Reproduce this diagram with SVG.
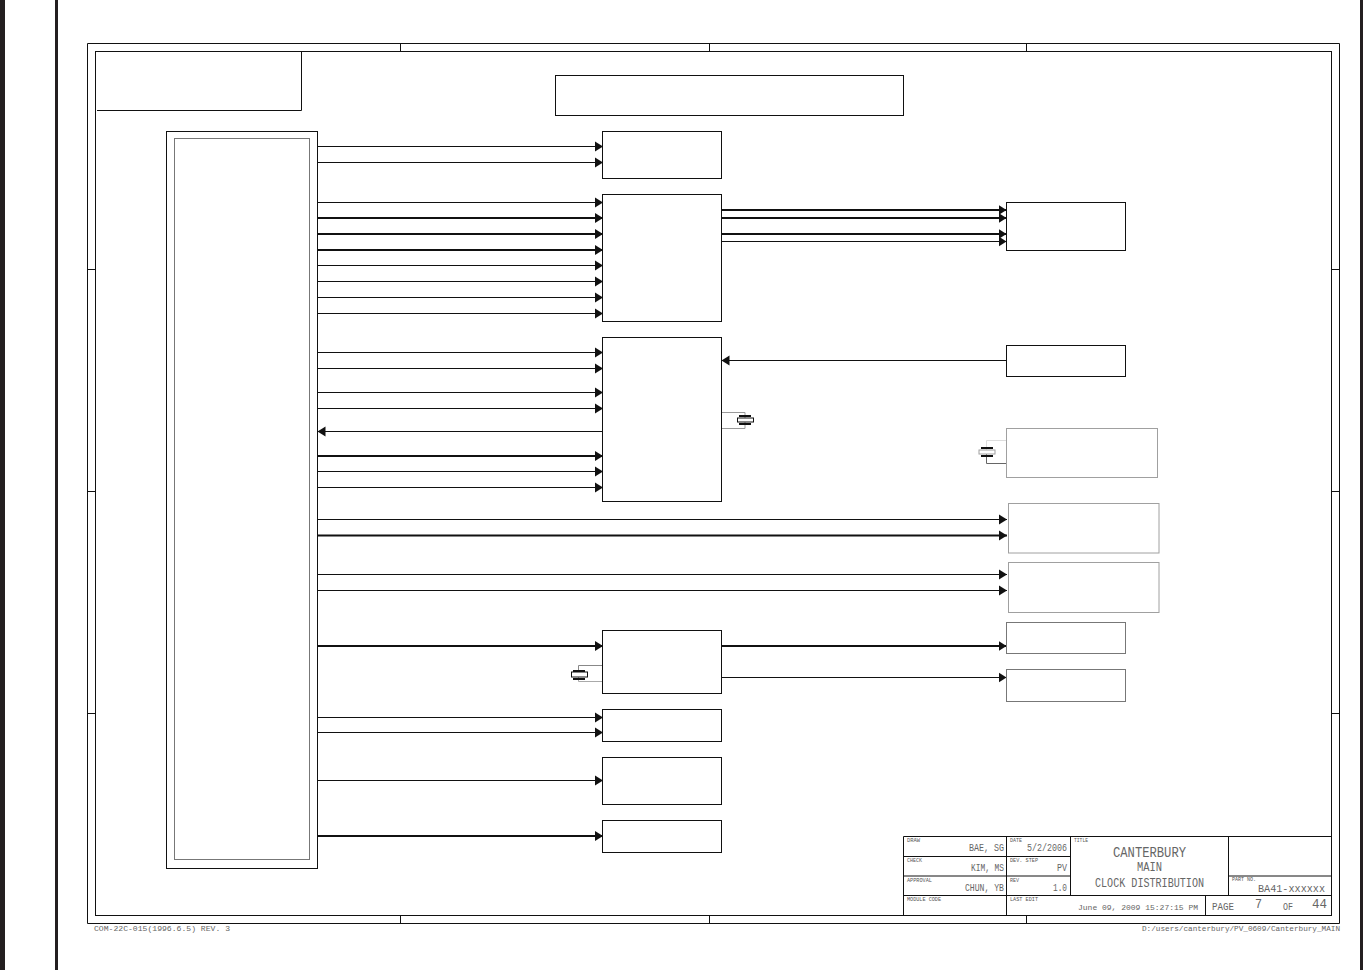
<svg xmlns="http://www.w3.org/2000/svg" width="1363" height="970" viewBox="0 0 1363 970">
<defs>
<style>
.box{fill:#fff;stroke:#111;stroke-width:1}
.gb{fill:#fff;stroke:#a0a0a0;stroke-width:1}
.db{fill:#fff;stroke:#777;stroke-width:1}
.f{fill:none;stroke:#111;stroke-width:1}
.thin{fill:none;stroke:#111;stroke-width:1;marker-end:url(#a)}
.thick{fill:none;stroke:#111;stroke-width:2;marker-end:url(#a)}
.w{fill:none;stroke:#999;stroke-width:1}
.bar{fill:#111}
text{font-family:"Liberation Mono","DejaVu Sans Mono",monospace;fill:#666}
.s{font-size:5.500px;fill:#555}
.m{font-size:10.500px}
.n{font-size:8px}
.t{font-size:12px}
.l{font-size:14px}
.c{font-size:9px}
.p{font-size:7.600px}
</style>
<marker id="a" markerUnits="userSpaceOnUse" markerWidth="9" markerHeight="11" refX="8" refY="5.500" orient="auto"><path d="M0 0.500L8 5.500L0 10.500Z" fill="#111"/></marker>
</defs>
<rect width="1363" height="970" fill="#fff"/>
<rect x="0" y="0" width="5" height="970" fill="#231f20"/>
<rect x="55" y="0" width="3" height="970" fill="#231f20"/>
<rect x="1360" y="0" width="3" height="970" fill="#231f20"/>
<g id="frame">
<path class="f" d="M87.500 923.500V43.500H1339.500V923.500Z"/>
<rect class="f" x="95.500" y="51.500" width="1236" height="864"/>
<path class="f" d="M400.500 43.500V51.500M709.500 43.500V51.500M1026.500 43.500V51.500M400.500 915.500V923.500M709.500 915.500V923.500M1026.500 915.500V923.500M87.500 269.500H95.500M87.500 491.500H95.500M87.500 713.500H95.500M1331.500 269.500H1339.500M1331.500 491.500H1339.500M1331.500 713.500H1339.500"/>
<path class="f" d="M301.500 51.500V110.500H97"/>
<text x="94" y="931" class="p" textLength="136" lengthAdjust="spacingAndGlyphs">COM-22C-015(1996.6.5) REV. 3</text>
<text x="1142" y="931" class="p" textLength="198" lengthAdjust="spacingAndGlyphs">D:/users/canterbury/PV_0609/Canterbury_MAIN</text>
</g>
<g id="connectors">
<path class="thin" d="M317.500 146.500H603"/>
<path class="thin" d="M317.500 162.500H603"/>
<path class="thin" d="M317.500 202.500H603"/>
<path class="thick" d="M317.500 218H603"/>
<path class="thick" d="M317.500 234H603"/>
<path class="thick" d="M317.500 250H603"/>
<path class="thin" d="M317.500 265.500H603"/>
<path class="thin" d="M317.500 281.500H603"/>
<path class="thin" d="M317.500 297.500H603"/>
<path class="thin" d="M317.500 313.500H603"/>
<path class="thin" d="M317.500 352.500H603"/>
<path class="thin" d="M317.500 368.500H603"/>
<path class="thin" d="M317.500 392.500H603"/>
<path class="thin" d="M317.500 408.500H603"/>
<path class="thin" d="M603 431.500H317.500"/>
<path class="thick" d="M317.500 456H603"/>
<path class="thin" d="M317.500 471.500H603"/>
<path class="thin" d="M317.500 487.500H603"/>
<path class="thin" d="M317.500 519.500H1007"/>
<path class="thick" d="M317.500 535.500H1007"/>
<path class="thin" d="M317.500 574.500H1007"/>
<path class="thin" d="M317.500 590.500H1007"/>
<path class="thick" d="M317.500 646H603"/>
<path class="thin" d="M317.500 717.500H603"/>
<path class="thin" d="M317.500 732.500H603"/>
<path class="thin" d="M317.500 780.500H603"/>
<path class="thick" d="M317.500 836H603"/>
<path class="thick" d="M721.500 210H1006.500"/>
<path class="thick" d="M721.500 218H1006.500"/>
<path class="thick" d="M721.500 234H1006.500"/>
<path class="thin" d="M721.500 241.500H1006.500"/>
<path class="thin" d="M1006.500 360.500H721.500"/>
<path class="thick" d="M721.500 646H1006.500"/>
<path class="thin" d="M721.500 677.500H1006.500"/>
<path class="w" d="M722 412.500H745V428.500H722"/>
<path class="w" style="stroke:#ddd" d="M1006 440.500H986.500V452"/>
<path class="w" style="stroke:#666" d="M986.500 452V463.500H1006"/>
<path class="w" style="stroke:#888" d="M603 665.500H578.500V673"/>
<path class="w" style="stroke:#aaa" d="M578.500 673V681.500H603"/>
</g>
<g id="main-block"><rect class="box" x="166.500" y="131.500" width="151" height="737"/><rect class="db" x="174.500" y="138.500" width="135" height="721"/></g>
<g id="title-box"><rect class="box" x="555.500" y="75.500" width="348" height="40"/></g>
<g id="block-a"><rect class="box" x="602.500" y="131.500" width="119" height="47"/></g>
<g id="block-b"><rect class="box" x="602.500" y="194.500" width="119" height="127"/></g>
<g id="block-c"><rect class="box" x="602.500" y="337.500" width="119" height="164"/></g>
<g id="block-d"><rect class="box" x="602.500" y="630.500" width="119" height="63"/></g>
<g id="block-e"><rect class="box" x="602.500" y="709.500" width="119" height="32"/></g>
<g id="block-f"><rect class="box" x="602.500" y="757.500" width="119" height="47"/></g>
<g id="block-g"><rect class="box" x="602.500" y="820.500" width="119" height="32"/></g>
<g id="out-1"><rect class="box" x="1006.500" y="202.500" width="119" height="48"/></g>
<g id="out-2"><rect class="box" x="1006.500" y="345.500" width="119" height="31"/></g>
<g id="out-3"><rect class="gb" x="1006.500" y="428.500" width="151" height="49"/></g>
<g id="out-4"><rect class="gb" x="1008.500" y="503.500" width="150.500" height="49.500"/></g>
<g id="out-5"><rect class="gb" x="1008.500" y="562.500" width="150.500" height="50"/></g>
<g id="out-6"><rect class="db" x="1006.500" y="622.500" width="119" height="31"/></g>
<g id="out-7"><rect class="db" x="1006.500" y="669.500" width="119" height="32"/></g>
<g id="crystal-1"><rect class="bar" x="739" y="415" width="12" height="2"/><rect class="bar" x="739" y="423" width="12" height="2"/><rect class="box" x="737.500" y="418" width="16" height="4"/></g>
<g id="crystal-2"><rect class="bar" x="981" y="447" width="12" height="2"/><rect class="bar" x="981" y="455" width="12" height="2"/><rect class="gb" x="979" y="450" width="16" height="4"/></g>
<g id="crystal-3"><rect class="bar" x="573" y="670" width="12" height="2"/><rect class="bar" x="573" y="678" width="12" height="2"/><rect class="box" x="571.500" y="672" width="16" height="5"/></g>
<g id="title-block">
<path class="f" d="M903.500 915.500V836.500H1331.500M903.500 856.500H1070.500M903.500 876H1070.500M903.500 895.500H1331.500M1006.500 836.500V915.500M1070.500 836.500V895.500M1228.500 836.500V895.500M1228.500 876H1331.500M1205.500 895.500V915.500"/>
<text x="907" y="842" class="s" textLength="13" lengthAdjust="spacingAndGlyphs">DRAW</text>
<text x="907" y="862" class="s" textLength="15" lengthAdjust="spacingAndGlyphs">CHECK</text>
<text x="907" y="882" class="s" textLength="25" lengthAdjust="spacingAndGlyphs">APPROVAL</text>
<text x="907" y="901" class="s" textLength="34" lengthAdjust="spacingAndGlyphs">MODULE CODE</text>
<text x="1010" y="842" class="s" textLength="12" lengthAdjust="spacingAndGlyphs">DATE</text>
<text x="1010" y="862" class="s" textLength="28" lengthAdjust="spacingAndGlyphs">DEV. STEP</text>
<text x="1010" y="882" class="s" textLength="9" lengthAdjust="spacingAndGlyphs">REV</text>
<text x="1010" y="901" class="s" textLength="28" lengthAdjust="spacingAndGlyphs">LAST EDIT</text>
<text x="1074" y="842" class="s" textLength="14" lengthAdjust="spacingAndGlyphs">TITLE</text>
<text x="1232" y="881" class="s" textLength="24" lengthAdjust="spacingAndGlyphs">PART NO.</text>
<text x="969" y="851" class="m" textLength="35" lengthAdjust="spacingAndGlyphs">BAE, SG</text>
<text x="971" y="871" class="m" textLength="33" lengthAdjust="spacingAndGlyphs">KIM, MS</text>
<text x="965" y="891" class="m" textLength="39" lengthAdjust="spacingAndGlyphs">CHUN, YB</text>
<text x="1027" y="851" class="m" textLength="40" lengthAdjust="spacingAndGlyphs">5/2/2006</text>
<text x="1057" y="871" class="m" textLength="10" lengthAdjust="spacingAndGlyphs">PV</text>
<text x="1053" y="891" class="m" textLength="14" lengthAdjust="spacingAndGlyphs">1.0</text>
<text x="1113" y="857" class="l" textLength="73" lengthAdjust="spacingAndGlyphs">CANTERBURY</text>
<text x="1137" y="871" class="t" textLength="25" lengthAdjust="spacingAndGlyphs">MAIN</text>
<text x="1095" y="887" class="t" textLength="109" lengthAdjust="spacingAndGlyphs">CLOCK DISTRIBUTION</text>
<text x="1258" y="892" class="m" textLength="67" lengthAdjust="spacingAndGlyphs">BA41-xxxxxx</text>
<text x="1078" y="910" class="n" textLength="120" lengthAdjust="spacingAndGlyphs">June 09, 2009 15:27:15 PM</text>
<text x="1212" y="910" class="m" textLength="22" lengthAdjust="spacingAndGlyphs">PAGE</text>
<text x="1255" y="908" class="t" textLength="7" lengthAdjust="spacingAndGlyphs">7</text>
<text x="1283" y="910" class="m" textLength="10" lengthAdjust="spacingAndGlyphs">OF</text>
<text x="1312" y="908" class="t" textLength="15" lengthAdjust="spacingAndGlyphs">44</text>
</g>
</svg>
